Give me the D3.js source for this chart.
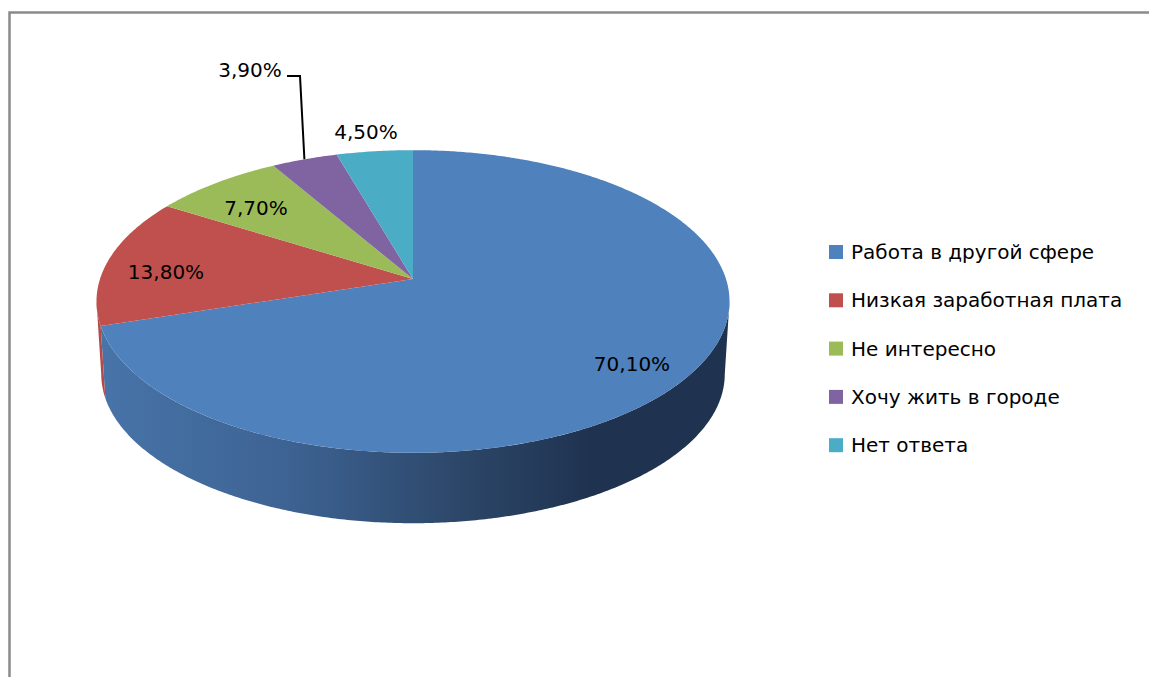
<!DOCTYPE html>
<html>
<head>
<meta charset="utf-8">
<script src="https://cdn.jsdelivr.net/npm/d3@7"></script>
<style>
  body { margin: 0; background: #fff; }
  text { font-family: "DejaVu Sans", "Noto Sans", sans-serif; fill: #000; }
</style>
</head>
<body>
<svg width="1149" height="677"></svg>
<script>
// chart data
var categories = ['Работа в другой сфере', 'Низкая заработная плата', 'Не интересно', 'Хочу жить в городе', 'Нет ответа'];
var values = [70.1, 13.8, 7.7, 3.9, 4.5];
var labels = ['70,10%', '13,80%', '7,70%', '3,90%', '4,50%'];
var colors = ['#4F81BD', '#C0504D', '#9BBB59', '#8064A2', '#4BACC6'];

var svg = d3.select('svg');

// frame (only top and left edges are visible in the picture)
svg.append('path')
    .attr('d', 'M9.5,677 L9.5,12.5 L1149,12.5')
    .attr('fill', 'none')
    .attr('stroke', '#8a8a8a')
    .attr('stroke-width', 2.5);

// 3D pie geometry, perspective projection of a flat disc
var cx = 413, cy = 279;
var rx = 313, ry = 148, k = 0.1485, depth = 73;

function proj(t, dy, s) {
    var X = Math.sin(t), Z = Math.cos(t);
    var den = 1 + k * Z;
    return [cx + rx * s * X / den, cy + dy - ry * s * Z / den];
}

var pie = d3.pie().sort(null).value(d => d)(values);

// gradient for the blue wall
var defs = svg.append('defs');
var gBlue = defs.append('linearGradient')
    .attr('id', 'sideBlue')
    .attr('gradientUnits', 'userSpaceOnUse')
    .attr('x1', 97).attr('x2', 730).attr('y1', 0).attr('y2', 0);
gBlue.append('stop').attr('offset', '0%').attr('stop-color', '#4874a9');
gBlue.append('stop').attr('offset', '30%').attr('stop-color', '#3d6393');
gBlue.append('stop').attr('offset', '58%').attr('stop-color', '#2c4668');
gBlue.append('stop').attr('offset', '78%').attr('stop-color', '#1f3350');
gBlue.append('stop').attr('offset', '100%').attr('stop-color', '#1f3350');

var sideFill = ['url(#sideBlue)', '#b24b48', '#8aa84f', '#6f5690', '#3f98b0'];

// visible part of the wall: between the right and left silhouette points
var tR = Math.acos(-k), tL = 2 * Math.PI - Math.acos(-k);
var step = Math.PI / 360;

function rim(t0, t1, dy, s) {
    var pts = [];
    var n = Math.max(2, Math.ceil(Math.abs(t1 - t0) / step));
    for (var i = 0; i <= n; i++) {
        pts.push(proj(t0 + (t1 - t0) * i / n, dy, s));
    }
    return pts;
}

var line = d3.line();

// walls
pie.forEach(function(d, i) {
    var a = Math.max(d.startAngle, tR), b = Math.min(d.endAngle, tL);
    if (b <= a) return;
    var top = rim(a, b, 0, 1);
    var bot = rim(b, a, depth, 0.985);
    svg.append('path')
        .attr('d', line(top.concat(bot)) + 'Z')
        .attr('fill', sideFill[i]);
});

// top faces
pie.forEach(function(d, i) {
    var pts = [[cx, cy]].concat(rim(d.startAngle, d.endAngle, 0, 1));
    svg.append('path')
        .attr('d', line(pts) + 'Z')
        .attr('fill', colors[i]);
});

// data labels
var labelPos = [[632, 371], [166, 279], [256, 215], [250, 77], [366, 139]];
var lbl = svg.append('g');
labels.forEach(function(t, i) {
    lbl.append('text')
        .attr('x', labelPos[i][0])
        .attr('y', labelPos[i][1])
        .attr('text-anchor', 'middle')
        .style('font-size', '20px')
        .text(t);
});

// leader line for the small purple slice
var mid = (pie[3].startAngle + pie[3].endAngle) / 2;
var tip = proj(mid, 0, 1);
svg.append('path')
    .attr('d', line([[287, 76], [300, 76], [tip[0], tip[1]]]))
    .attr('fill', 'none')
    .attr('stroke', '#000')
    .attr('stroke-width', 2);

// legend
var legend = svg.append('g').attr('transform', 'translate(829,245)');
var rows = legend.selectAll('g').data(categories).enter().append('g')
    .attr('transform', (d, i) => 'translate(0,' + (i * 48.3) + ')');
rows.append('rect')
    .attr('width', 14).attr('height', 14)
    .attr('fill', (d, i) => colors[i]);
rows.append('text')
    .attr('x', 22).attr('y', 14)
    .style('font-size', '20px')
    .text(d => d);
</script>
</body>
</html>
